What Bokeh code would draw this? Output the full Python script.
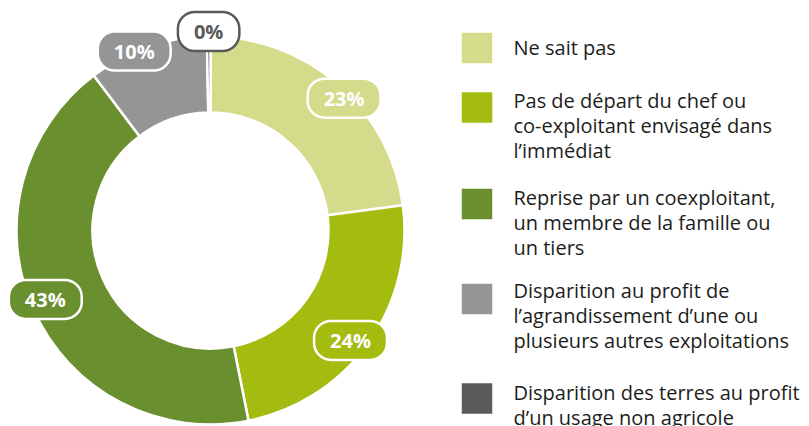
import numpy as np
from bokeh.plotting import figure
from bokeh.models import Range1d, Label, ColumnDataSource
from bokeh.core.properties import value
from bokeh.embed import file_html
from bokeh.resources import INLINE

# ---------------- data ----------------
categories = [
    "Ne sait pas",
    "Pas de départ du chef ou\nco-exploitant envisagé dans\nl’immédiat",
    "Reprise par un coexploitant,\nun membre de la famille ou\nun tiers",
    "Disparition au profit de\nl’agrandissement d’une ou\nplusieurs autres exploitations",
    "Disparition des terres au profit\nd’un usage non agricole",
]
shares = [23, 24, 43, 10, 0.3]
share_labels = ["23%", "24%", "43%", "10%", "0%"]
colors = ["#d4dc8c", "#a4bb10", "#6a8f2e", "#959595", "#5a5a58"]

# ---------------- layout ----------------
W, H = 809, 426
FONT = "Open Sans"


def sy(y):
    return 426 - y


p = figure(width=W, height=H, x_range=Range1d(0, W), y_range=Range1d(426 - H, 426),
           output_backend="svg", toolbar_location=None, min_border=0)
p.axis.visible = False
p.grid.visible = False
p.outline_line_color = None
p.background_fill_color = "white"
p.border_fill_color = "white"

cx, cy = 210, sy(230)
r_in, r_out = 118, 194
frac = np.array(shares, dtype=float) / sum(shares)
cum = np.concatenate([[0.0], np.cumsum(frac)])
start = np.pi / 2 - 2 * np.pi * cum[1:]
end = np.pi / 2 - 2 * np.pi * cum[:-1]
src = ColumnDataSource(dict(start=start, end=end, color=colors))
p.annular_wedge(x=cx, y=cy, inner_radius=r_in, outer_radius=r_out,
                start_angle="start", end_angle="end", direction="anticlock",
                fill_color="color", line_color="white", line_width=2.5, source=src)

# percentage pills (placed radially at each slice's mid-angle, small layout nudges)
label_r = [188, 178, 179, 195, 199]
label_nudge = np.radians([4, 2.5, 1.5, -4, 0])
mid = (cum[:-1] + cum[1:]) / 2 * 2 * np.pi + label_nudge
for i, txt in enumerate(share_labels):
    lx = cx + label_r[i] * np.sin(mid[i])
    ly = cy + label_r[i] * np.cos(mid[i])
    small = shares[i] < 1
    p.add_layout(Label(
        x=lx, y=ly, text=txt, text_align="center", text_baseline="middle",
        text_font=FONT, text_font_size="20px", text_font_style="bold",
        text_color="#5a5a58" if small else "white",
        background_fill_color="white" if small else colors[i],
        border_line_color="#5a5a58" if small else "white",
        border_line_width=2.5, border_radius=17, padding=(16, 16, 6, 6)))

# legend
sq_y = [47.5, 107, 203.5, 298.5, 398]
first_base = [47, 100, 197, 290, 392]
step = 25
p.rect(x=[476.5] * len(colors), y=[sy(v) for v in sq_y], width=30.5, height=30.5,
       fill_color=colors, line_color=None)
tx, ty, tt = [], [], []
for i, cat in enumerate(categories):
    for j, line in enumerate(cat.split("\n")):
        tx.append(513)
        ty.append(sy(first_base[i] + j * step))
        tt.append(line)
p.text(x=tx, y=ty, text=tt, text_font=value(FONT), text_font_size="20px",
       text_color="#1d1d1b", text_baseline="alphabetic", text_align="left")

open("out.html", "w").write(file_html(p, INLINE))
